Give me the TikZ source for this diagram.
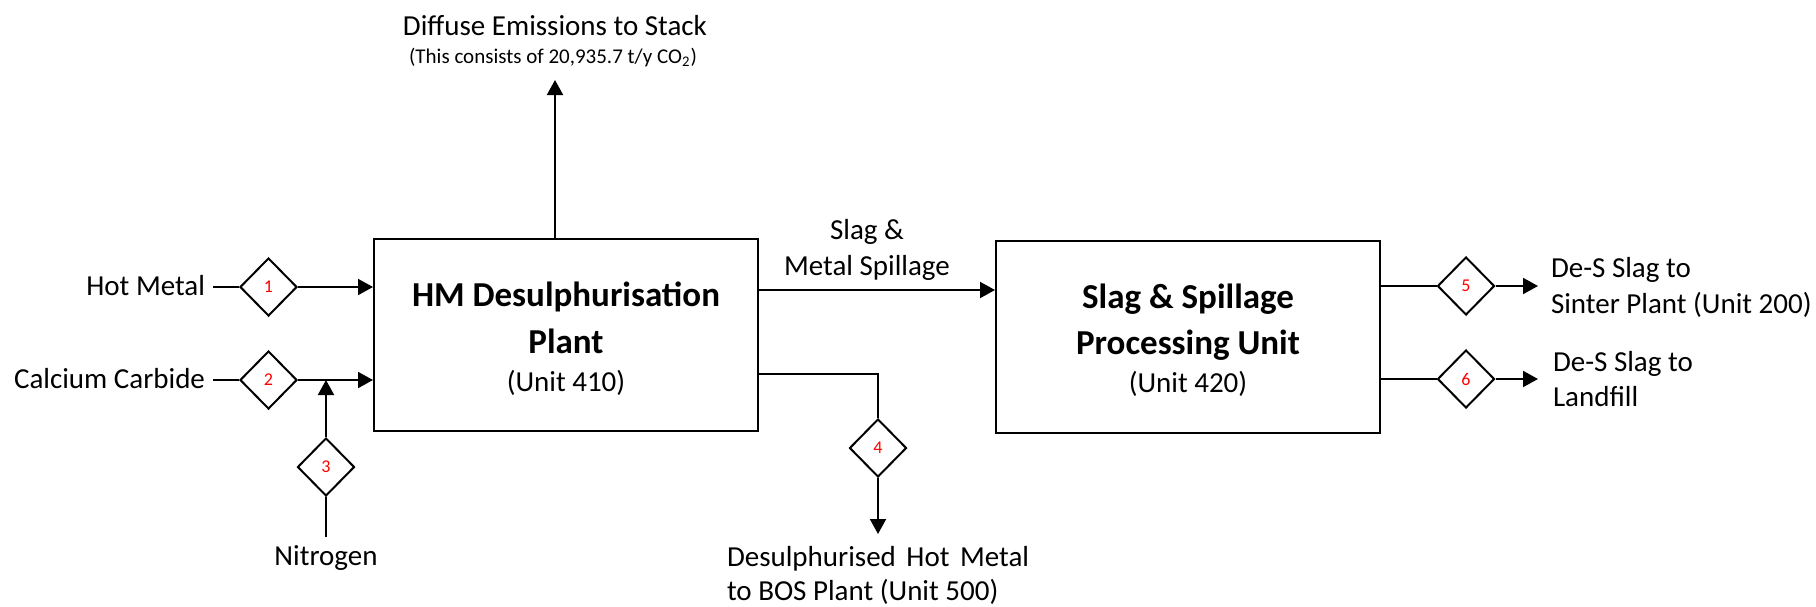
\documentclass[tikz,border=0pt]{standalone}
\usepackage{fontspec}
\setmainfont{Carlito}
\usetikzlibrary{arrows.meta,shapes.geometric}
\definecolor{tagred}{RGB}{255,0,0}

\begin{document}
\begin{tikzpicture}[x=0.5pt,y=-0.5pt,line width=1pt,
  flow/.style={-{Triangle[length=7.5pt,width=8pt]}},
  unitbox/.style={draw,rectangle,minimum width=192pt,minimum height=96pt,inner sep=0pt},
  tag/.style={draw,diamond,minimum width=28.5pt,minimum height=29pt,inner sep=0pt,
              text=tagred,font=\fontsize{9}{10}\selectfont},
  lbl/.style={font=\fontsize{14.5}{17}\selectfont,inner sep=0pt},
  title/.style={font=\fontsize{17.5}{20}\selectfont\bfseries,inner sep=0pt},
  note/.style={font=\fontsize{10.5}{12}\selectfont,inner sep=0pt}]

\useasboundingbox (0,0) rectangle (1816,606);

% process units
\node[unitbox] (hmd) at (566,335) {};
\node[title,anchor=base] (hmdA) at (566,306) {HM Desulphurisation};
\node[title,anchor=base] (hmdB) at (566,353) {Plant};
\node[lbl,anchor=base]   (hmdC) at (566,391) {(Unit 410)};

\node[unitbox] (ssp) at (1188,336.5) {};
\node[title,anchor=base] (sspA) at (1188,308) {Slag \& Spillage};
\node[title,anchor=base] (sspB) at (1188,354) {Processing Unit};
\node[lbl,anchor=base]   (sspC) at (1188,392) {(Unit 420)};

% feeds
\node[lbl,anchor=base east,inner xsep=3.5pt] (hm) at (213,295) {Hot Metal};
\node[tag] (t1) at (268.5,287) {1};
\draw (hm.east |- t1.west) -- (t1.west);
\draw[flow] (t1.east) -- (t1.east -| hmd.west);

\node[lbl,anchor=base east,inner xsep=3.5pt] (cc) at (213,388) {Calcium Carbide};
\node[tag] (t2) at (268.5,380) {2};
\draw (cc.east |- t2.west) -- (t2.west);
\draw[flow] (t2.east) -- (t2.east -| hmd.west);

\node[tag] (t3) at (326,467) {3};
\node[lbl,anchor=base,inner ysep=3.5pt] (nit) at (326,565) {Nitrogen};
\draw (nit.north) -- (t3.south);
\draw[flow] (t3.north) -- (t3.north |- t2.east);

% stack emissions
\node[lbl,anchor=base] (ds) at (555,35) {Diffuse Emissions to Stack};
\node[note,anchor=base] (dsn) at (553,63) {(This consists of 20,935.7 t/y CO\textsubscript{2})};
\coordinate (stack) at (555,80);
\draw[flow] (hmd.north -| stack) -- (stack);

% slag transfer
\coordinate (s1) at ([yshift=22.5pt]hmd.east);
\draw[flow] (s1) -- (s1 -| ssp.west);
\node[lbl,anchor=base] (slA) at (867,239) {Slag \&};
\node[lbl,anchor=base] (slB) at (867,275) {Metal Spillage};

% desulphurised hot metal
\coordinate (o4) at ([yshift=-19.5pt]hmd.east);
\node[tag] (t4) at (878,448) {4};
\draw (o4) -| (t4.north);
\coordinate (bosin) at (878,534);
\draw[flow] (t4.south) -- (bosin);
\node[lbl,anchor=base west] (bosA) at (726,566) {Desulphurised\hspace{2pt} Hot\hspace{2pt} Metal};
\node[lbl,anchor=base west] (bosB) at (726,600) {to BOS Plant (Unit 500)};

% slag outlets
\coordinate (o5) at ([yshift=25.25pt]ssp.east);
\coordinate (o6) at ([yshift=-21.25pt]ssp.east);
\node[tag] (t5) at (1466,286) {5};
\node[tag] (t6) at (1466,379) {6};
\node[lbl,anchor=base west,inner xsep=6pt] (s5a) at (1538,277) {De-S Slag to};
\node[lbl,anchor=base west,inner xsep=6pt] (s5b) at (1538,313) {Sinter Plant (Unit 200)};
\node[lbl,anchor=base west,inner xsep=6pt] (s6a) at (1540,371) {De-S Slag to};
\node[lbl,anchor=base west,inner xsep=6pt] (s6b) at (1540,406) {Landfill};
\draw (o5) -- (t5.west);
\draw[flow] (t5.east) -- (t5.east -| s5a.west);
\draw (o6) -- (t6.west);
\draw[flow] (t6.east) -- (t6.east -| s5a.west);
\end{tikzpicture}
\end{document}
